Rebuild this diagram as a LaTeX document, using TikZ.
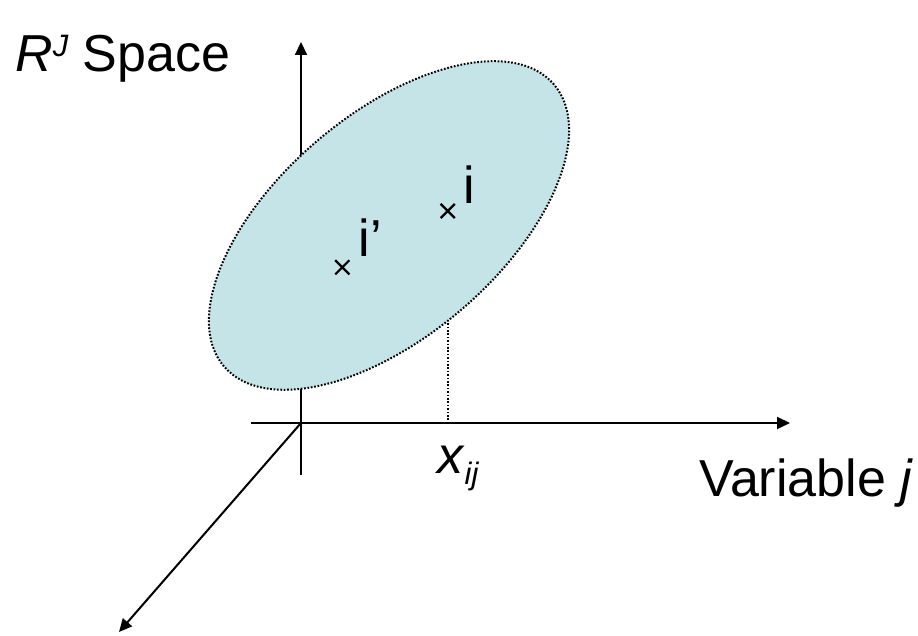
\documentclass[tikz,border=0pt]{standalone}
\usepackage{fontspec}
\setmainfont{Liberation Sans}
\usetikzlibrary{arrows.meta,shapes.misc}
\definecolor{ellfill}{RGB}{197,228,231}
\tikzset{
  axis/.style={line width=2pt, -{Triangle[length=13pt,width=12pt]}},
  plainaxis/.style={line width=2pt},
  dotline/.style={line width=2pt, dash pattern=on 1.7pt off 1.7pt},
  xmark/.style={cross out, draw, line width=2.2pt, minimum size=12pt, inner sep=0pt},
  lbl/.style={anchor=base west, inner sep=0pt, font=\fontsize{52}{60}\selectfont},
}
\newcommand{\smallsz}{\fontsize{31}{36}\selectfont}
\begin{document}
\begin{tikzpicture}[x=1pt,y=1pt]
\useasboundingbox (0,0) rectangle (918,636);
% coordinates
\coordinate (O) at (301,213);
\coordinate (vt) at (301,594);
\coordinate (vb) at (301,161);
\coordinate (hl) at (251,213);
\coordinate (hr) at (790,213);
\coordinate (dg) at (119,4);
\coordinate (c) at (389,410.5);
\coordinate (xf) at (447.7,213);
\coordinate (pi) at (447.7,425);
\coordinate (pip) at (342.3,368.7);
% axes
\draw[plainaxis] (vb) -- (O);
\draw[axis] (O) -- (vt);
\draw[axis] (hl) -- (hr);
\draw[axis] (O) -- (dg);
% dotted projection
\draw[dotline] (pi) -- (xf);
% ellipse
\fill[ellfill] (c) circle [x radius=217, y radius=111, rotate=40.5];
\draw[dotline] (c) circle [x radius=217, y radius=111, rotate=40.5];
% points
\node[xmark] (ci) at (pi) {};
\node[xmark] (cip) at (pip) {};
\node[lbl] (li) at (463.5,432.7) {i};
\node[lbl] (lip) at (358.5,379.3) {i’};
% labels
\node[lbl] (space) at (15,564) {\textit{R}\raisebox{15pt}{\smallsz\textit{J}} Space};
\node[lbl] (xij) at (437,162.7) {\textit{x}\raisebox{-11pt}{\smallsz\textit{ij}}};
\node[lbl] (var) at (699,139) {Variable \textit{j}};
\end{tikzpicture}
\end{document}
